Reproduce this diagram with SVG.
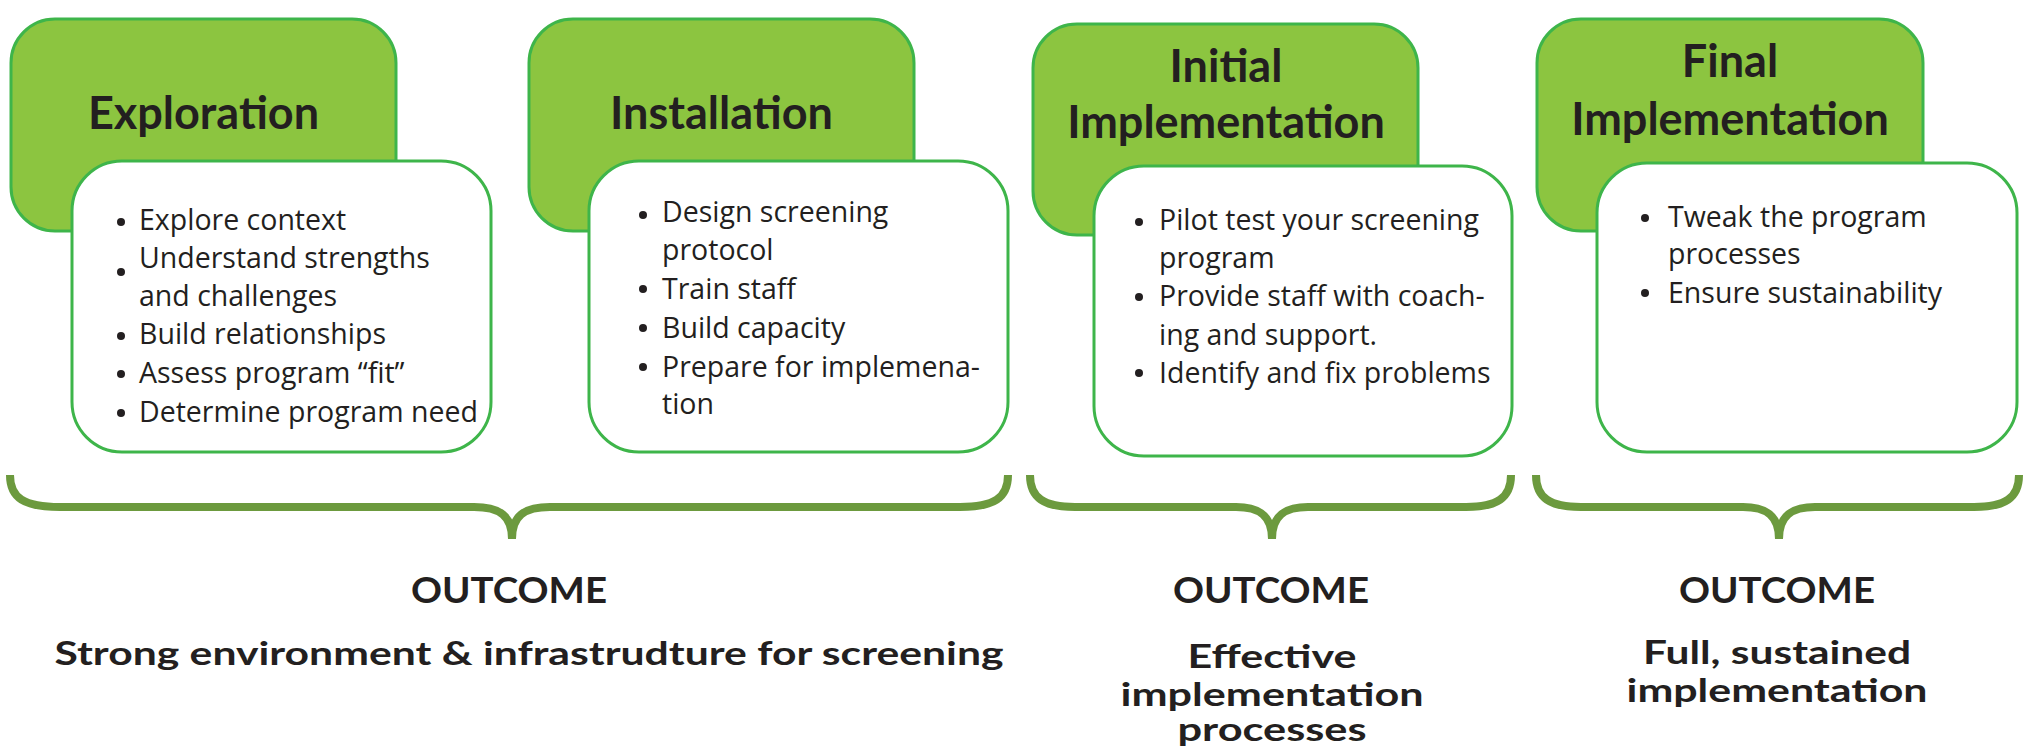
<svg xmlns="http://www.w3.org/2000/svg" width="2026" height="749" viewBox="0 0 2026 749">
<style>
.hdr{fill:#8cc540;stroke:#3eb54a;stroke-width:3}
.card{fill:#ffffff;stroke:#3eb54a;stroke-width:3}
.ht{font-family:Lato,"Open Sans",sans-serif;font-weight:700;font-size:45px;fill:#231f20;text-anchor:middle}
.bt{font-family:"Open Sans","Noto Sans",sans-serif;font-size:28.5px;fill:#231f20}
.dot{fill:#231f20}
.brace{fill:none;stroke:#6c9a3e;stroke-width:8}
.oc{font-family:Lato,"Open Sans",sans-serif;font-weight:700;font-size:36px;fill:#231f20;text-anchor:middle}
.ot{font-family:Lato,"Open Sans",sans-serif;font-weight:700;font-size:33px;fill:#231f20;text-anchor:middle}
</style>
<rect width="2026" height="749" fill="#ffffff"/>

<g id="exploration">
<rect class="hdr" x="11" y="19" width="385" height="212" rx="44"/>
<text class="ht" x="203.5" y="129">Exploration</text>
<rect class="card" x="72" y="161" width="419" height="291" rx="50"/>
<circle class="dot" cx="121" cy="222" r="4"/>
<circle class="dot" cx="121" cy="272" r="4"/>
<circle class="dot" cx="121" cy="336" r="4"/>
<circle class="dot" cx="121" cy="374" r="4"/>
<circle class="dot" cx="121" cy="413" r="4"/>
<text class="bt" x="139" y="230">Explore context</text>
<text class="bt" x="139" y="268">Understand strengths</text>
<text class="bt" x="139" y="306">and challenges</text>
<text class="bt" x="139" y="344">Build relationships</text>
<text class="bt" x="139" y="383">Assess program “fit”</text>
<text class="bt" x="139" y="422">Determine program need</text>
</g>

<g id="installation">
<rect class="hdr" x="529" y="19" width="385" height="212" rx="44"/>
<text class="ht" x="721.5" y="129">Installation</text>
<rect class="card" x="589" y="161" width="419" height="291" rx="50"/>
<circle class="dot" cx="643" cy="215" r="4"/>
<circle class="dot" cx="643" cy="289" r="4"/>
<circle class="dot" cx="643" cy="328" r="4"/>
<circle class="dot" cx="643" cy="367" r="4"/>
<text class="bt" x="662" y="222">Design screening</text>
<text class="bt" x="662" y="260">protocol</text>
<text class="bt" x="662" y="299">Train staff</text>
<text class="bt" x="662" y="338">Build capacity</text>
<text class="bt" x="662" y="377">Prepare for implemena-</text>
<text class="bt" x="662" y="414">tion</text>
</g>

<g id="initial-implementation">
<rect class="hdr" x="1033" y="24" width="385" height="211" rx="44"/>
<text class="ht" x="1226" y="82">Initial</text>
<text class="ht" x="1226" y="138">Implementation</text>
<rect class="card" x="1094" y="166" width="418" height="290" rx="50"/>
<circle class="dot" cx="1139" cy="222" r="4"/>
<circle class="dot" cx="1139" cy="297" r="4"/>
<circle class="dot" cx="1139" cy="373" r="4"/>
<text class="bt" x="1159" y="230">Pilot test your screening</text>
<text class="bt" x="1159" y="268">program</text>
<text class="bt" x="1159" y="306">Provide staff with coach-</text>
<text class="bt" x="1159" y="345">ing and support.</text>
<text class="bt" x="1159" y="383">Identify and fix problems</text>
</g>

<g id="final-implementation">
<rect class="hdr" x="1537" y="19" width="386" height="212" rx="44"/>
<text class="ht" x="1730" y="77">Final</text>
<text class="ht" x="1730" y="135">Implementation</text>
<rect class="card" x="1597" y="163" width="420" height="289" rx="50"/>
<circle class="dot" cx="1645" cy="218" r="4"/>
<circle class="dot" cx="1645" cy="293" r="4"/>
<text class="bt" x="1668" y="227">Tweak the program</text>
<text class="bt" x="1668" y="264">processes</text>
<text class="bt" x="1668" y="303">Ensure sustainability</text>
</g>

<g id="connectors">
<path class="brace" d="M10,475 C10,498 24,507 60,507 L474,507 C500,507 512,516 512,539 C512,516 524,507 550,507 L960,507 C994,507 1008,498 1008,475"/>
<path class="brace" d="M1030,475 C1030,498 1044,507 1075,507 L1236,507 C1260,507 1272,516 1272,539 C1272,516 1284,507 1308,507 L1466,507 C1497,507 1511,498 1511,475"/>
<path class="brace" d="M1536,475 C1536,498 1550,507 1581,507 L1743,507 C1767,507 1779,516 1779,539 C1779,516 1791,507 1815,507 L1974,507 C2005,507 2019,498 2019,475"/>
</g>

<g id="outcome-1">
<text class="oc" x="509" y="603" textLength="196" lengthAdjust="spacingAndGlyphs">OUTCOME</text>
<text class="ot" x="529" y="665" textLength="949" lengthAdjust="spacingAndGlyphs">Strong environment &amp; infrastrudture for screening</text>
</g>
<g id="outcome-2">
<text class="oc" x="1271" y="603" textLength="196" lengthAdjust="spacingAndGlyphs">OUTCOME</text>
<text class="ot" x="1272" y="668" textLength="169" lengthAdjust="spacingAndGlyphs">Effective</text>
<text class="ot" x="1272" y="706" textLength="303" lengthAdjust="spacingAndGlyphs">implementation</text>
<text class="ot" x="1272" y="741" textLength="189" lengthAdjust="spacingAndGlyphs">processes</text>
</g>
<g id="outcome-3">
<text class="oc" x="1777" y="603" textLength="196" lengthAdjust="spacingAndGlyphs">OUTCOME</text>
<text class="ot" x="1777" y="664" textLength="268" lengthAdjust="spacingAndGlyphs">Full, sustained</text>
<text class="ot" x="1777" y="702" textLength="301" lengthAdjust="spacingAndGlyphs">implementation</text>
</g>
</svg>
